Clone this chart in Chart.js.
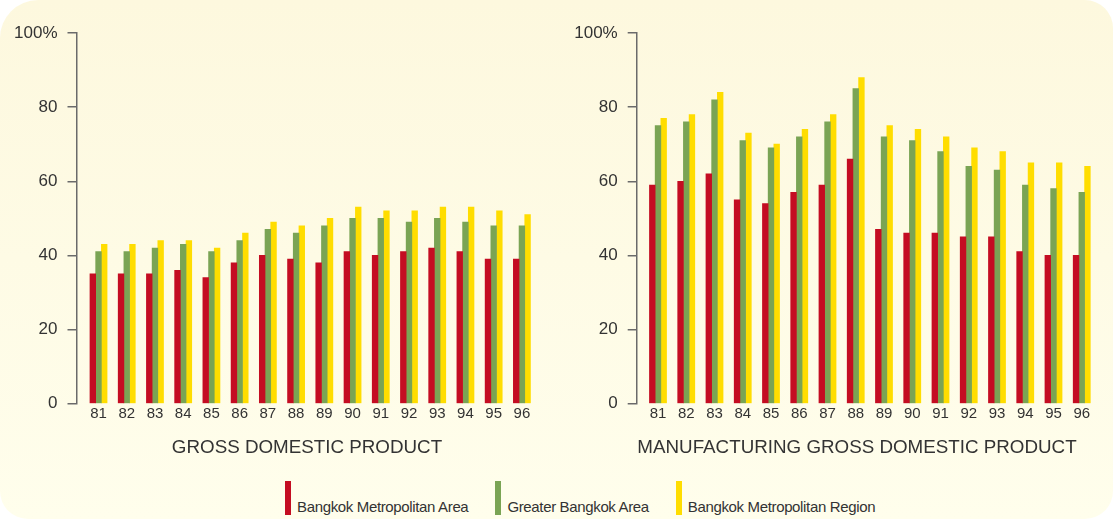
<!DOCTYPE html>
<html>
<head>
<meta charset="utf-8">
<script src="https://cdn.jsdelivr.net/npm/chart.js@4.4.1/dist/chart.umd.min.js"></script>
<style>
  html, body { margin: 0; padding: 0; width: 1113px; height: 519px; overflow: hidden; background: #ffffff; }
  .panel {
    position: absolute; left: 0; top: 0; width: 1113px; height: 519px;
    border-radius: 38px 28px 28px 28px;
    background: linear-gradient(#fdf8de, #fffeec);
  }
  .wrap { position: absolute; left: 0; top: 0; width: 1113px; height: 519px; overflow: hidden; }
  canvas { position: absolute; top: 0; }
  #gdpChart { left: 0; }
  #mfgChart { left: 556px; }
  .legend {
    position: absolute; left: 285px; top: 480px; height: 35px;
    display: flex; align-items: flex-end; gap: 27px;
    font-family: "Liberation Sans", Arial, sans-serif; font-size: 15px; color: #333;
    letter-spacing: -0.35px;
  }
  .legend .item { display: flex; align-items: flex-end; }
  .legend .swatch { width: 6px; height: 34px; margin-right: 6px; }
  .legend .label { line-height: 15px; margin-bottom: 1px; }
</style>
</head>
<body>
<div class="panel"></div>
<div class="wrap">
  <canvas id="gdpChart" width="602" height="470"></canvas>
  <canvas id="mfgChart" width="586" height="470"></canvas>
</div>
<div class="legend" id="legend"></div>
<script>
// 年份 (佛曆 25xx 的後兩位)
const years = ['81', '82', '83', '84', '85', '86', '87', '88', '89', '90', '91', '92', '93', '94', '95', '96'];

const seriesNames = ['Bangkok Metropolitan Area', 'Greater Bangkok Area', 'Bangkok Metropolitan Region'];
const seriesColors = ['#c40d22', '#7aa454', '#ffdd00'];

// GROSS DOMESTIC PRODUCT (%)
const gdpBMA = [35, 35, 35, 36, 34, 38, 40, 39, 38, 41, 40, 41, 42, 41, 39, 39];
const gdpGBA = [41, 41, 42, 43, 41, 44, 47, 46, 48, 50, 50, 49, 50, 49, 48, 48];
const gdpBMR = [43, 43, 44, 44, 42, 46, 49, 48, 50, 53, 52, 52, 53, 53, 52, 51];

// MANUFACTURING GROSS DOMESTIC PRODUCT (%)
const mfgBMA = [59, 60, 62, 55, 54, 57, 59, 66, 47, 46, 46, 45, 45, 41, 40, 40];
const mfgGBA = [75, 76, 82, 71, 69, 72, 76, 85, 72, 71, 68, 64, 63, 59, 58, 57];
const mfgBMR = [77, 78, 84, 73, 70, 74, 78, 88, 75, 74, 72, 69, 68, 65, 65, 64];

const yTickValues = [0, 20, 40, 60, 80, 100];
const yTickLabels = ['0', '20', '40', '60', '80', '100%'];

const FONT = '"Liberation Sans", Arial, sans-serif';
const AXIS_COLOR = '#6a6a6a';

function toPoints(values) {
    return years.map((yr, i) => ({ x: Number(yr), y: values[i] }));
}

function makeDatasets(seriesList) {
    return seriesList.map((values, i) => ({
        label: seriesNames[i],
        data: toPoints(values),
        backgroundColor: seriesColors[i],
        borderWidth: 0,
        barThickness: 5.7
    }));
}

// x 用線性軸：y 軸和第一組柱子之間留一點空
// 畫布右邊故意拉寬，讓底下的標題置中在原圖的位置
function makeChart(canvasId, title, seriesList, xRange, pad) {
    return new Chart(document.getElementById(canvasId), {
        type: 'bar',
        data: { datasets: makeDatasets(seriesList) },
        options: {
            responsive: false,
            animation: false,
            layout: { padding: { left: pad.left, right: pad.right, top: 33, bottom: 2.8 } },
            plugins: {
                legend: { display: false },
                tooltip: { enabled: false },
                title: {
                    display: true,
                    position: 'bottom',
                    text: title,
                    color: '#333',
                    font: { family: FONT, size: 18.8, weight: 'normal' },
                    padding: { top: 3, bottom: 8 }
                }
            },
            scales: {
                x: {
                    type: 'linear',
                    offset: false,
                    min: xRange[0], max: xRange[1],
                    grid: { display: false },
                    border: { display: false },
                    ticks: {
                        stepSize: 1,
                        includeBounds: false,
                        autoSkip: false,
                        maxRotation: 0,
                        padding: -7,
                        color: '#333',
                        font: { family: FONT, size: 15 },
                        callback: (v) => years.includes(String(v)) ? String(v) : ''
                    },
                    afterFit: (axis) => { axis.height = 30; }
                },
                y: {
                    position: 'left',
                    min: 0, max: 100,
                    afterBuildTicks: (axis) => { axis.ticks = yTickValues.map(v => ({ value: v })); },
                    afterFit: (axis) => { axis.width = 64; },
                    grid: {
                        drawOnChartArea: false,
                        drawTicks: true,
                        tickLength: 9,
                        color: AXIS_COLOR,
                        lineWidth: 1.5
                    },
                    border: { display: true, color: AXIS_COLOR, width: 1.5 },
                    ticks: {
                        padding: 10,
                        color: '#333',
                        font: { family: FONT, size: 17 },
                        callback: (v) => yTickLabels[yTickValues.indexOf(v)]
                    }
                }
            }
        }
    });
}

makeChart('gdpChart', 'GROSS DOMESTIC PRODUCT',
    [gdpBMA, gdpGBA, gdpBMR], [80.22, 98.82], { left: 12.5, right: 0.5 });

makeChart('mfgChart', 'MANUFACTURING GROSS DOMESTIC PRODUCT',
    [mfgBMA, mfgGBA, mfgBMR], [80.246, 98.108], { left: 16.7, right: 0.7 });

// 圖例
const legendEl = document.getElementById('legend');
seriesNames.forEach((name, i) => {
    const item = document.createElement('div');
    item.className = 'item';
    const sw = document.createElement('span');
    sw.className = 'swatch';
    sw.style.background = seriesColors[i];
    const lb = document.createElement('span');
    lb.className = 'label';
    lb.textContent = name;
    item.appendChild(sw);
    item.appendChild(lb);
    legendEl.appendChild(item);
});
</script>
</body>
</html>
